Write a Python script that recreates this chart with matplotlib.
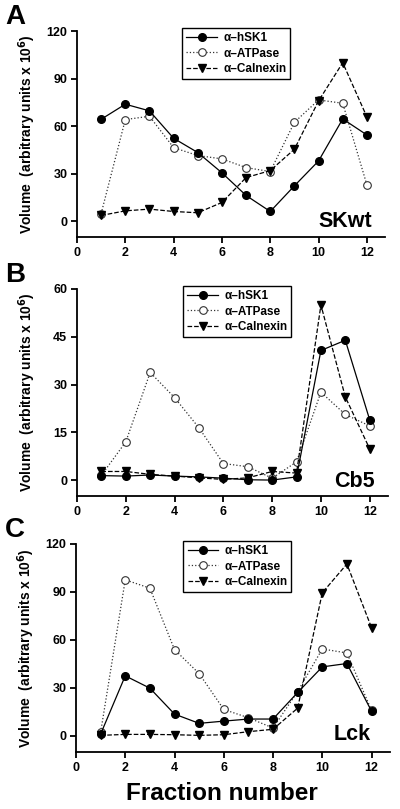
import numpy as np
import matplotlib
matplotlib.use("Agg")
import matplotlib.pyplot as plt

plt.rcParams['font.family'] = ['Liberation Sans', 'DejaVu Sans']
plt.rcParams['font.weight'] = 'bold'

fractions = np.arange(1, 13)

# Panel A - SKwt
skwt_hsk1 = [64.3, 73.8, 69.6, 52.3, 43.3, 30.5, 16.2, 6.1, 22.3, 38.0, 64.5, 54.4]
skwt_atpase = [4.8, 64.1, 66.2, 46.4, 41.4, 39.3, 33.8, 31.3, 62.4, 76.5, 74.4, 22.9]
skwt_calnexin = [3.6, 6.5, 7.6, 6.1, 5.3, 11.8, 27.5, 31.9, 45.4, 75.9, 100.0, 65.8]

# Panel B - Cb5
cb5_hsk1 = [1.4, 1.25, 1.6, 1.25, 1.0, 0.6, 0.1, 0.0, 1.0, 40.7, 43.9, 18.9]
cb5_atpase = [1.5, 12.0, 33.8, 25.9, 16.4, 5.2, 4.2, 0.6, 5.7, 27.6, 20.6, 17.0]
cb5_calnexin = [2.7, 2.7, 1.8, 1.25, 0.7, 0.2, 0.7, 2.7, 2.2, 55.0, 26.1, 9.8]

# Panel C - Lck
lck_hsk1 = [1.2, 37.6, 29.9, 13.7, 7.9, 9.3, 10.6, 10.6, 27.2, 43.2, 45.3, 15.5]
lck_atpase = [2.3, 97.6, 92.4, 54.0, 39.0, 16.6, 11.4, 5.0, 27.8, 54.4, 51.9, 16.0]
lck_calnexin = [0.4, 1.0, 1.0, 0.8, 0.4, 0.8, 2.7, 4.2, 17.4, 89.5, 107.5, 67.7]

panels = [
    ('A', 'SKwt', skwt_hsk1, skwt_atpase, skwt_calnexin, 120, 30),
    ('B', 'Cb5', cb5_hsk1, cb5_atpase, cb5_calnexin, 60, 15),
    ('C', 'Lck', lck_hsk1, lck_atpase, lck_calnexin, 120, 30),
]

# axes rectangles in pixels: left, top, right, bottom
rects = [(77, 31, 385, 237), (77, 289, 388, 496), (76, 544, 390, 752)]
tag_pos = [(0.958, 0.05), (0.958, 0.043), (0.94, 0.058)]
letter_y = [4, 262, 517]

W, H = 400, 809
fig = plt.figure(figsize=(W / 100, H / 100), dpi=100)

for (letter, tag, hsk1, atp, cal, ymax, ystep), (l, t, r, b), (tx, ty), ly in zip(panels, rects, tag_pos, letter_y):
    ax = fig.add_axes([l / W, 1 - b / H, (r - l) / W, (b - t) / H])
    ax.plot(fractions, hsk1, '-', color='black', lw=0.9, marker='o', ms=5.5,
            mfc='black', mec='black', label='α–hSK1', zorder=3)
    ax.plot(fractions, atp, ':', color='#333333', lw=0.9, marker='o', ms=5.5,
            mfc='white', mec='#333333', mew=0.8, label='α–ATPase', zorder=2)
    ax.plot(fractions, cal, '--', color='black', lw=0.9, marker='v', ms=5.5,
            mfc='black', mec='black', label='α–Calnexin', zorder=2.5)

    ax.set_xlim(0, 12.75)
    ax.set_ylim(-ymax / 12, ymax)
    ax.set_xticks(np.arange(0, 13, 2))
    ax.set_yticks(np.arange(0, ymax + 1, ystep))
    for s in ['top', 'right']:
        ax.spines[s].set_visible(False)
    for s in ['left', 'bottom']:
        ax.spines[s].set_linewidth(1.3)
    ax.tick_params(direction='out', length=4, width=1.3, labelsize=9, pad=3)
    for lab in ax.get_xticklabels() + ax.get_yticklabels():
        lab.set_fontweight('bold')

    ax.set_ylabel('Volume  (arbitrary units x 10$^6$)', fontsize=10, fontweight='bold')
    ax.yaxis.set_label_coords(-0.125, 0.5)

    ax.text(tx, ty, tag, transform=ax.transAxes, ha='right', va='baseline',
            fontsize=15.5, fontweight='bold')
    fig.text(5 / W, 1 - ly / H, letter, ha='left', va='top', fontsize=20, fontweight='bold')

    leg = ax.legend(loc='upper left', bbox_to_anchor=(0.342, 1.015), fontsize=8.5,
                    frameon=True, fancybox=False, edgecolor='black', framealpha=1,
                    handlelength=2.6, borderpad=0.35, labelspacing=0.3,
                    handletextpad=0.5, borderaxespad=0)
    leg.get_frame().set_linewidth(1.0)

fig.text(0.555, 1 - 800 / H, 'Fraction number', ha='center', va='baseline',
         fontsize=17.5, fontweight='bold')

fig.savefig('out.png', dpi=100)
